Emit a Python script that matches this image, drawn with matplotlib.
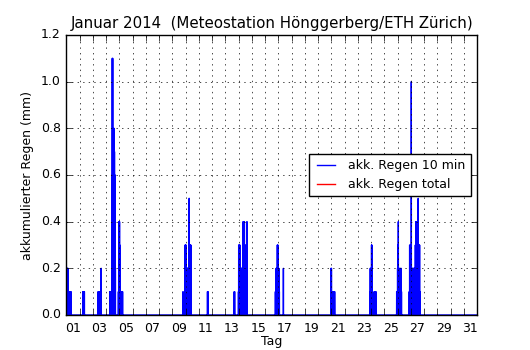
import matplotlib
matplotlib.use("Agg")
import matplotlib.pyplot as plt
import numpy as np
import pandas as pd

# 10-minute rain sums (mm) at Hönggerberg, January 2014; only non-zero intervals listed
rain_time = [
    "01 00:20", "01 00:40", "01 01:00", "01 01:30", "01 02:00", "01 02:30", "01 03:00", "01 03:40",
    "01 05:00", "01 06:10", "01 08:40",
    "02 06:00", "02 07:20", "02 08:50",
    "03 09:40", "03 10:50", "03 12:10", "03 15:10",
    "04 07:00", "04 08:20", "04 10:00", "04 10:30", "04 11:00", "04 11:20", "04 11:40",
    "04 12:10", "04 12:40", "04 13:10", "04 13:40", "04 14:30", "04 15:20", "04 16:30", "04 17:00",
    "04 22:30", "04 23:00", "04 23:30", "05 00:00", "05 00:30", "05 01:00", "05 01:30",
    "05 02:30", "05 03:30", "05 05:00", "05 06:00",
    "09 19:30", "09 23:00", "09 23:20", "09 23:40", "10 00:00", "10 00:30", "10 01:00",
    "10 01:40", "10 02:10", "10 02:40", "10 03:10", "10 03:40", "10 04:10", "10 04:40",
    "10 05:10", "10 05:40", "10 06:10", "10 06:40", "10 07:10", "10 07:40", "10 08:10",
    "10 08:40", "10 09:10", "10 09:40", "10 10:20",
    "11 15:50", "11 16:40",
    "13 16:20", "13 17:00",
    "14 00:00", "14 00:20", "14 00:50", "14 01:20", "14 01:50", "14 02:30", "14 03:00",
    "14 03:30", "14 04:00", "14 04:30", "14 05:00", "14 05:30", "14 06:00", "14 06:30",
    "14 07:10", "14 07:50", "14 08:20", "14 08:50", "14 09:30", "14 10:00", "14 10:40",
    "14 11:10", "14 12:30", "14 13:30", "14 15:20",
    "16 18:50", "16 19:30", "16 20:10", "16 20:40", "16 21:10", "16 21:40", "16 22:20",
    "16 22:50", "16 23:20", "16 23:50", "17 00:30", "17 01:10", "17 02:00", "17 09:20",
    "20 23:30", "21 00:00", "21 00:20", "21 00:50", "21 01:30", "21 02:10", "21 02:50",
    "21 03:30", "21 04:10", "21 04:50", "21 05:30", "21 06:10",
    "23 22:10", "23 22:40", "23 23:10", "23 23:40", "24 00:20", "24 01:00", "24 01:30",
    "24 02:00", "24 05:50", "24 06:30", "24 07:20", "24 08:00", "24 08:50",
    "25 22:30", "25 23:20", "26 00:10", "26 00:50", "26 01:30", "26 02:00", "26 03:30",
    "26 05:00", "26 06:30", "26 07:10",
    "26 21:20", "26 22:00", "26 22:40", "26 23:20", "27 00:00", "27 00:40", "27 01:00",
    "27 01:30", "27 02:30", "27 03:30", "27 04:30", "27 05:30", "27 06:30", "27 07:40",
    "27 08:20", "27 09:00", "27 09:40", "27 10:30", "27 11:30", "27 12:40", "27 13:30",
    "27 14:10", "27 15:00", "27 16:00", "27 16:40",
]
rain_mm = [
    0.2, 0.1, 0.2, 0.2, 0.1, 0.2, 0.2, 0.1,
    0.1, 0.1, 0.1,
    0.1, 0.1, 0.1,
    0.1, 0.1, 0.1, 0.2,
    0.1, 0.1, 0.1, 0.2, 0.6, 1.1, 0.4,
    1.1, 0.6, 0.2, 0.6, 0.8, 0.7, 0.6, 0.2,
    0.1, 0.2, 0.4, 0.3, 0.4, 0.3, 0.2,
    0.1, 0.1, 0.1, 0.1,
    0.1, 0.1, 0.3, 0.2, 0.3, 0.2, 0.3,
    0.2, 0.2, 0.1, 0.2, 0.2, 0.2, 0.1,
    0.2, 0.2, 0.3, 0.5, 0.2, 0.3, 0.2,
    0.3, 0.2, 0.3, 0.1,
    0.1, 0.1,
    0.1, 0.1,
    0.1, 0.3, 0.2, 0.3, 0.2, 0.3, 0.2,
    0.1, 0.2, 0.2, 0.1, 0.2, 0.2, 0.1,
    0.2, 0.3, 0.4, 0.3, 0.4, 0.2, 0.4,
    0.3, 0.3, 0.2, 0.4,
    0.1, 0.1, 0.2, 0.1, 0.2, 0.2, 0.3,
    0.2, 0.3, 0.2, 0.1, 0.2, 0.1, 0.2,
    0.2, 0.1, 0.2, 0.1, 0.1, 0.1, 0.1,
    0.1, 0.1, 0.1, 0.1, 0.1,
    0.1, 0.2, 0.1, 0.2, 0.2, 0.3, 0.3,
    0.2, 0.1, 0.1, 0.1, 0.1, 0.1,
    0.1, 0.1, 0.2, 0.3, 0.4, 0.2, 0.2,
    0.2, 0.2, 0.1,
    0.1, 0.3, 0.2, 0.3, 0.2, 0.3, 1.0,
    0.2, 0.2, 0.2, 0.2, 0.2, 0.2, 0.2,
    0.3, 0.4, 0.4, 0.2, 0.2, 0.3, 0.5,
    0.3, 0.3, 0.3, 0.1,
]
day_labels = ["%02d" % d for d in range(1, 32, 2)]

plt.style.use("classic")
plt.rcParams["path.simplify"] = False
plt.rcParams["font.size"] = 9

# full 10-minute series for the month, zero where no rain was recorded
idx = pd.date_range("2014-01-01 00:00", "2014-02-01 00:00", freq="10min")
series = pd.Series(0.0, index=idx)
stamps = pd.to_datetime(["2014-01-" + s for s in rain_time])
series.loc[stamps] = rain_mm
t = (series.index - idx[0]) / pd.Timedelta(days=1)

fig = plt.figure(figsize=(5.3, 3.5), dpi=100, facecolor="white")
ax = fig.add_subplot(111)
ax.set_facecolor("white")

ax.plot(t, series.values, "b-", lw=1, label="akk. Regen 10 min")
ax.plot([], [], "r-", lw=1, label="akk. Regen total")

ax.set_xlim(0, 31)
ax.set_ylim(0, 1.2)
ax.set_xticks(np.arange(0, 32))
ax.set_xticklabels([])
ax.set_xticks(np.arange(0.5, 31, 2), minor=True)
ax.set_xticklabels(day_labels, minor=True)
ax.tick_params(axis="x", which="minor", length=0, pad=5)
ax.set_yticks(np.arange(0, 1.21, 0.2))
ax.yaxis.set_major_formatter(matplotlib.ticker.FormatStrFormatter("%.1f"))

ax.grid(True, which="major", color="k", linestyle=":", linewidth=0.5)

ax.set_title("Januar 2014  (Meteostation Hönggerberg/ETH Zürich)", fontsize=10.8)
ax.set_xlabel("Tag", labelpad=0)
ax.set_ylabel("akkumulierter Regen (mm)")

ax.legend(loc="center right", fontsize=9, numpoints=2)

fig.savefig("out.png", dpi=100, facecolor="white")
